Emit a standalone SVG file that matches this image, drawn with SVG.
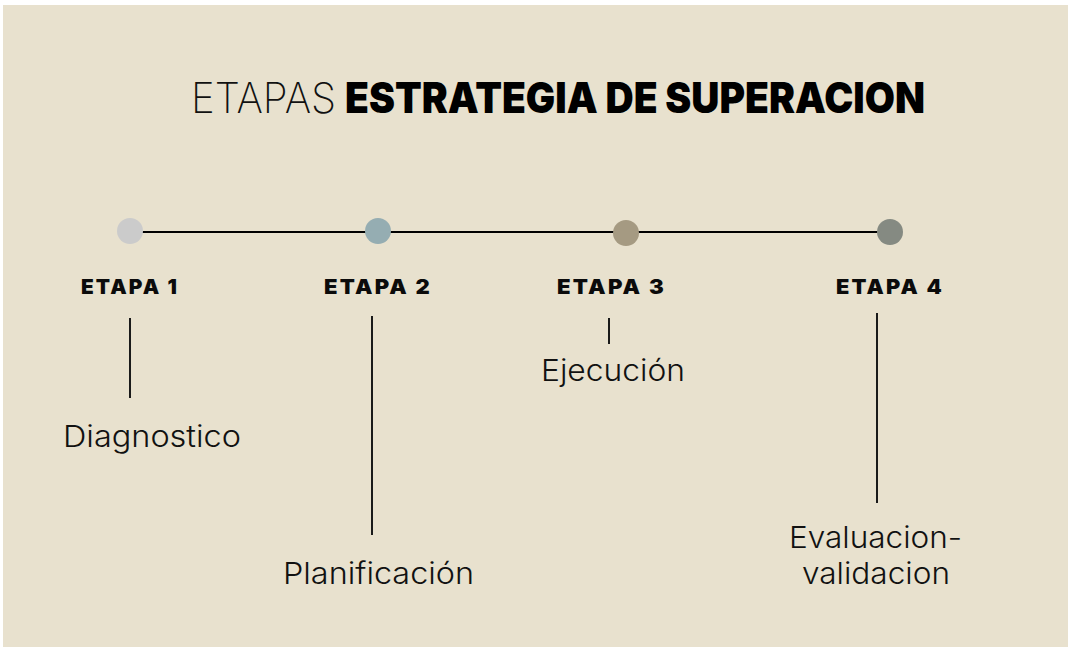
<svg xmlns="http://www.w3.org/2000/svg" width="1068" height="648" viewBox="0 0 1068 648">
<style>
.lbl{font-family:"Inter","Liberation Sans",Arial,sans-serif;font-weight:900;font-size:20px;letter-spacing:2px;fill:#0b0b0b}
.txt{font-family:"Inter","Liberation Sans",sans-serif;font-weight:300;font-size:30px;fill:#111}
.tick{stroke:#1a1a1a;stroke-width:2;fill:none}
</style>
<rect x="0" y="0" width="1068" height="648" fill="#ffffff"/>
<rect x="3" y="5" width="1065" height="642" fill="#E8E1CE"/>
<g id="title">
<text x="191" y="113" font-family="Inter,'Liberation Sans',sans-serif" font-weight="200" font-size="42" fill="#111" textLength="145" lengthAdjust="spacingAndGlyphs">ETAPAS</text>
<text x="345" y="113" font-family="Inter,'Liberation Sans',sans-serif" font-weight="900" font-size="42" fill="#000" textLength="580" lengthAdjust="spacingAndGlyphs">ESTRATEGIA DE SUPERACION</text>
</g>
<g id="connectors">
<line x1="130" y1="232" x2="890" y2="232" stroke="#000" stroke-width="2"/>
<line class="tick" x1="130" y1="318" x2="130" y2="398"/>
<line class="tick" x1="372" y1="316" x2="372" y2="535"/>
<line class="tick" x1="609" y1="318" x2="609" y2="344"/>
<line class="tick" x1="877" y1="313" x2="877" y2="503"/>
</g>
<g id="etapa1">
<circle cx="130" cy="231" r="13" fill="#CBCBCB"/>
<text class="lbl" x="81" y="294" textLength="98" lengthAdjust="spacingAndGlyphs">ETAPA 1</text>
<text class="txt" x="63" y="447" textLength="178" lengthAdjust="spacingAndGlyphs">Diagnostico</text>
</g>
<g id="etapa2">
<circle cx="378" cy="231" r="13" fill="#95ADB2"/>
<text class="lbl" x="324" y="294" textLength="108" lengthAdjust="spacingAndGlyphs">ETAPA 2</text>
<text class="txt" x="283" y="584" textLength="191" lengthAdjust="spacingAndGlyphs">Planificación</text>
</g>
<g id="etapa3">
<circle cx="626" cy="233" r="13" fill="#A59A82"/>
<text class="lbl" x="557" y="294" textLength="109" lengthAdjust="spacingAndGlyphs">ETAPA 3</text>
<text class="txt" x="541" y="381" textLength="144" lengthAdjust="spacingAndGlyphs">Ejecución</text>
</g>
<g id="etapa4">
<circle cx="890" cy="232" r="13" fill="#858A82"/>
<text class="lbl" x="836" y="294" textLength="108" lengthAdjust="spacingAndGlyphs">ETAPA 4</text>
<text class="txt" x="789" y="548" textLength="173" lengthAdjust="spacingAndGlyphs">Evaluacion-</text>
<text class="txt" x="802" y="584" textLength="148" lengthAdjust="spacingAndGlyphs">validacion</text>
</g>
</svg>
